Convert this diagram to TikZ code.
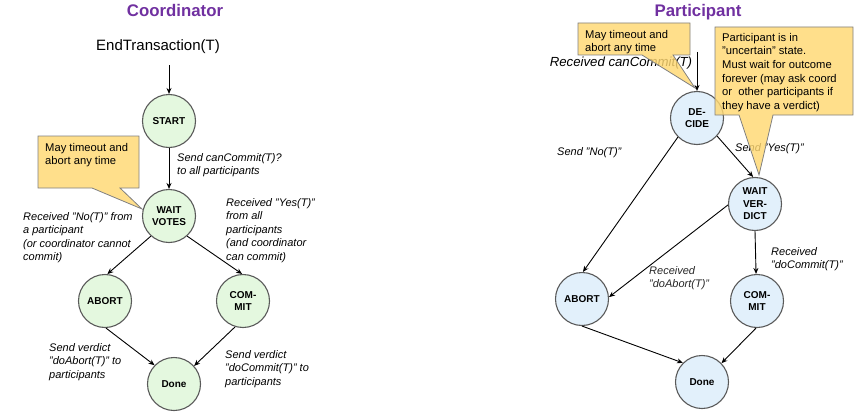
\documentclass[tikz,border=0pt]{standalone}
\usepackage{fontspec}
\setmainfont{Liberation Sans}
\usetikzlibrary{arrows.meta}
\definecolor{titlepurple}{HTML}{7030A0}
\definecolor{gfill}{HTML}{E4F8DF}
\definecolor{bfill}{HTML}{E2F0FB}
\definecolor{cfill}{HTML}{FFD872}
\definecolor{cdraw}{HTML}{808080}
\definecolor{sdraw}{HTML}{5A5A5A}
\begin{document}
\begin{tikzpicture}[x=1pt,y=-1pt,
  state/.style={circle,draw=sdraw,line width=1.1pt,minimum size=53pt,inner sep=0pt,
    align=center,font=\fontsize{10}{12.4}\selectfont\bfseries},
  gstate/.style={state,fill=gfill},
  bstate/.style={state,fill=bfill},
  lbl/.style={anchor=north west,inner sep=0pt,align=left,font=\fontsize{11}{13.5}\selectfont\itshape},
  ctext/.style={anchor=north west,inner sep=0pt,align=left,font=\fontsize{11.2}{13.6}\selectfont},
  callout/.style={fill=cfill,draw=cdraw,line width=0.8pt,fill opacity=0.82},
  ttl/.style={font=\fontsize{16.8}{20}\selectfont\bfseries,text=titlepurple,inner sep=0pt},
  arr/.style={-{Stealth[length=6pt,width=5pt]},line width=0.9pt,black}]
\useasboundingbox (0,0) rectangle (861,412);

% ---------------- Coordinator ----------------
\node[ttl] (ctitle) at (175,10) {Coordinator};
\node[inner sep=0pt,font=\fontsize{15}{18}\selectfont] (endt) at (158,47) {EndTransaction(T)};
\coordinate (cin) at (169,65);

\node[gstate] (cstart) at (169,121) {START};
\node[gstate] (cwait) at (169,216) {WAIT\\VOTES};
\node[gstate] (cabort) at (105,301) {ABORT};
\node[gstate] (ccommit) at (243,301) {COM-\\MIT};
\node[gstate] (cdone) at (174,384) {Done};

\draw[arr] (cin) -- (cstart.north);
\draw[arr] (cstart.south) -- (cwait.north);
\draw[arr] (cwait.228) -- (cabort.85);
\draw[arr] (cwait.312) -- (ccommit.92);
\draw[arr] (cabort.272) -- (cdone.136);
\draw[arr] (ccommit.253) -- (cdone.42);

\node[lbl] (l1) at (177,153) {Send canCommit(T)?\\to all participants};
\node[lbl] (l2) at (23,212) {Received "No(T)" from\\a participant\\(or coordinator cannot\\commit)};
\node[lbl] (l3) at (226,198) {Received "Yes(T)"\\from all\\participants\\(and coordinator\\can commit)};
\node[lbl] (l4) at (49,343) {Send verdict\\"doAbort(T)" to\\participants};
\node[lbl] (l5) at (225,350) {Send verdict\\"doCommit(T)" to\\participants};

\coordinate (ctip) at (142,209);
\draw[callout] (38,136) -- (139,136) -- (139,188) -- (120,188) -- (ctip) -- (92,188) -- (38,188) -- cycle;
\node[ctext] (ct1) at (45,143) {May timeout and\\abort any time};

% ---------------- Participant ----------------
\node[ttl] (ptitle) at (698,12) {Participant};
\node[inner sep=0pt,font=\fontsize{13.2}{16}\selectfont\itshape] (recv) at (621,63) {Received canCommit(T)};
\coordinate (pin) at (697,52);

\node[bstate] (pdecide) at (697,118) {DE-\\CIDE};
\node[bstate] (pwait) at (755,204) {WAIT\\VER-\\DICT};
\node[bstate] (pabort) at (582,299) {ABORT};
\node[bstate] (pcommit) at (757,301) {COM-\\MIT};
\node[bstate] (pdone) at (702,382) {Done};

\draw[arr] (pin) -- (pdecide.north);
\draw[arr] (pdecide.318) -- (pwait.94);
\draw[arr] (pdecide.225) -- (pabort.88);
\draw[arr] (pwait.182) -- (pabort.4);
\draw[arr] (pwait.south) -- (pcommit.92);
\draw[arr] (pabort.270) -- (pdone.135);
\draw[arr] (pcommit.268) -- (pdone.44);

\node[lbl] (m1) at (557,147) {Send "No(T)"};
\node[lbl] (m2) at (735,143) {Send "Yes(T)"};
\node[lbl,text=black!85] (m3) at (649,266) {Received\\"doAbort(T)"};
\node[lbl] (m4) at (771,247) {Received\\"doCommit(T)"};

\coordinate (ptip1) at (695,88);
\draw[callout] (578,23) -- (690,23) -- (690,55) -- (673,55) -- (ptip1) -- (642,55) -- (578,55) -- cycle;
\node[ctext] (pt1) at (585,30) {May timeout and\\abort any time};

\coordinate (ptip2) at (759,175);
\draw[callout] (715,27) -- (853,27) -- (853,115) -- (773,115) -- (ptip2) -- (739,115) -- (715,115) -- cycle;
\node[ctext] (pt2) at (722,33) {Participant is in\\"uncertain" state.\\Must wait for outcome\\forever (may ask coord\\or\ \ other participants if\\they have a verdict)};
\end{tikzpicture}
\end{document}
